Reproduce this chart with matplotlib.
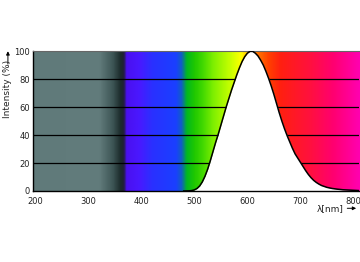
import numpy as np
import matplotlib
matplotlib.use("Agg")
import matplotlib.pyplot as plt
from matplotlib.colors import LinearSegmentedColormap

# Emission curve
wavelength = [480, 490, 495, 500, 505, 510, 515, 520, 525, 530, 535, 540, 545, 550,
              555, 560, 565, 570, 575, 580, 585, 590, 595, 600, 605, 610, 615, 620,
              625, 630, 635, 640, 645, 650, 655, 660, 665, 670, 675, 680, 685, 690,
              695, 700, 705, 710, 715, 720, 725, 730, 735, 740, 750, 760, 770, 780,
              790, 800, 811]
intensity = [0, 0.1, 0.3, 0.8, 1.8, 3.6, 6.5, 10.5, 15.5, 21.5, 28, 34.5, 40.5, 47,
             53.5, 60, 66, 72, 77.5, 83, 88, 92.5, 96, 98.5, 99.8, 99.8, 98.5, 96.5,
             93.5, 90, 85.5, 80.5, 75, 69, 62.5, 56, 50, 44.5, 39.5, 35, 30.5, 26.5,
             23.5, 20.5, 17.5, 14.5, 11.8, 9.5, 7.6, 6.1, 4.9, 3.9, 2.6, 1.8, 1.3, 0.9,
             0.7, 0.5, 0.3]
x_ticks = [200, 300, 400, 500, 600, 700, 800]
y_ticks = [0, 20, 40, 60, 80, 100]
grid_levels = [20, 40, 60, 80]

# Spectrum background colour stops (wavelength, colour)
spectrum_stops = [(196, "#607a7a"), (320, "#627c7c"), (345, "#3e5656"), (360, "#1c2c2c"),
                  (366, "#202034"), (372, "#4a10f0"), (395, "#4a18ff"), (420, "#2a30ff"),
                  (465, "#1a40ff"), (476, "#1060c0"), (485, "#00b820"), (500, "#20c800"),
                  (515, "#40d800"), (536, "#80f000"), (568, "#c8ff00"), (588, "#ffff00"),
                  (600, "#ffc000"), (615, "#ff8000"), (640, "#ff4000"), (662, "#ff2010"),
                  (720, "#ff1040"), (762, "#ff0070"), (811, "#ff00b0")]

xmin, xmax = 196, 811
pos = [(w - xmin) / (xmax - xmin) for w, _ in spectrum_stops]
cmap = LinearSegmentedColormap.from_list("spec", list(zip(pos, [c for _, c in spectrum_stops])))

fig = plt.figure(figsize=(3.6, 2.62), dpi=100)
ax = fig.add_axes([0.092, 0.271, 0.906, 0.534])

grad = np.linspace(0, 1, 1200)[None, :]
ax.imshow(grad, cmap=cmap, aspect="auto", extent=[xmin, xmax, 0, 100], zorder=0)

for g in grid_levels:
    ax.axhline(g, color="black", lw=0.9, zorder=1)

ax.fill_between(wavelength, intensity, 0, color="white", zorder=2, lw=0)
ax.plot(wavelength, intensity, color="black", lw=1.1, zorder=3)

ax.set_xlim(xmin, xmax)
ax.set_ylim(0, 100)
ax.set_xticks(x_ticks)
ax.set_yticks(y_ticks)
ax.tick_params(length=0, labelsize=6, colors="#222222")
ax.tick_params(axis="x", pad=4)
ax.tick_params(axis="y", pad=2.5)
ax.spines["top"].set_color("#666666")
ax.spines["top"].set_linewidth(0.8)
ax.spines["right"].set_visible(False)
ax.spines["left"].set_linewidth(1.0)
ax.spines["bottom"].set_linewidth(1.0)

# axis labels with arrows
fig.text(0.022, 0.66, "Intensity (%)", rotation=90, ha="center", va="center",
         fontsize=6.5, color="#222222")
fig.add_artist(matplotlib.patches.FancyArrowPatch(
    (0.022, 0.745), (0.022, 0.815), transform=fig.transFigure,
    arrowstyle="-|>", mutation_scale=5, lw=0.7, color="black"))
fig.text(0.955, 0.205, "λ[nm]", ha="right", va="center", fontsize=6.5, color="#222222")
fig.add_artist(matplotlib.patches.FancyArrowPatch(
    (0.957, 0.205), (0.997, 0.205), transform=fig.transFigure,
    arrowstyle="-|>", mutation_scale=5, lw=0.7, color="black"))

fig.savefig("out.png", dpi=100)
